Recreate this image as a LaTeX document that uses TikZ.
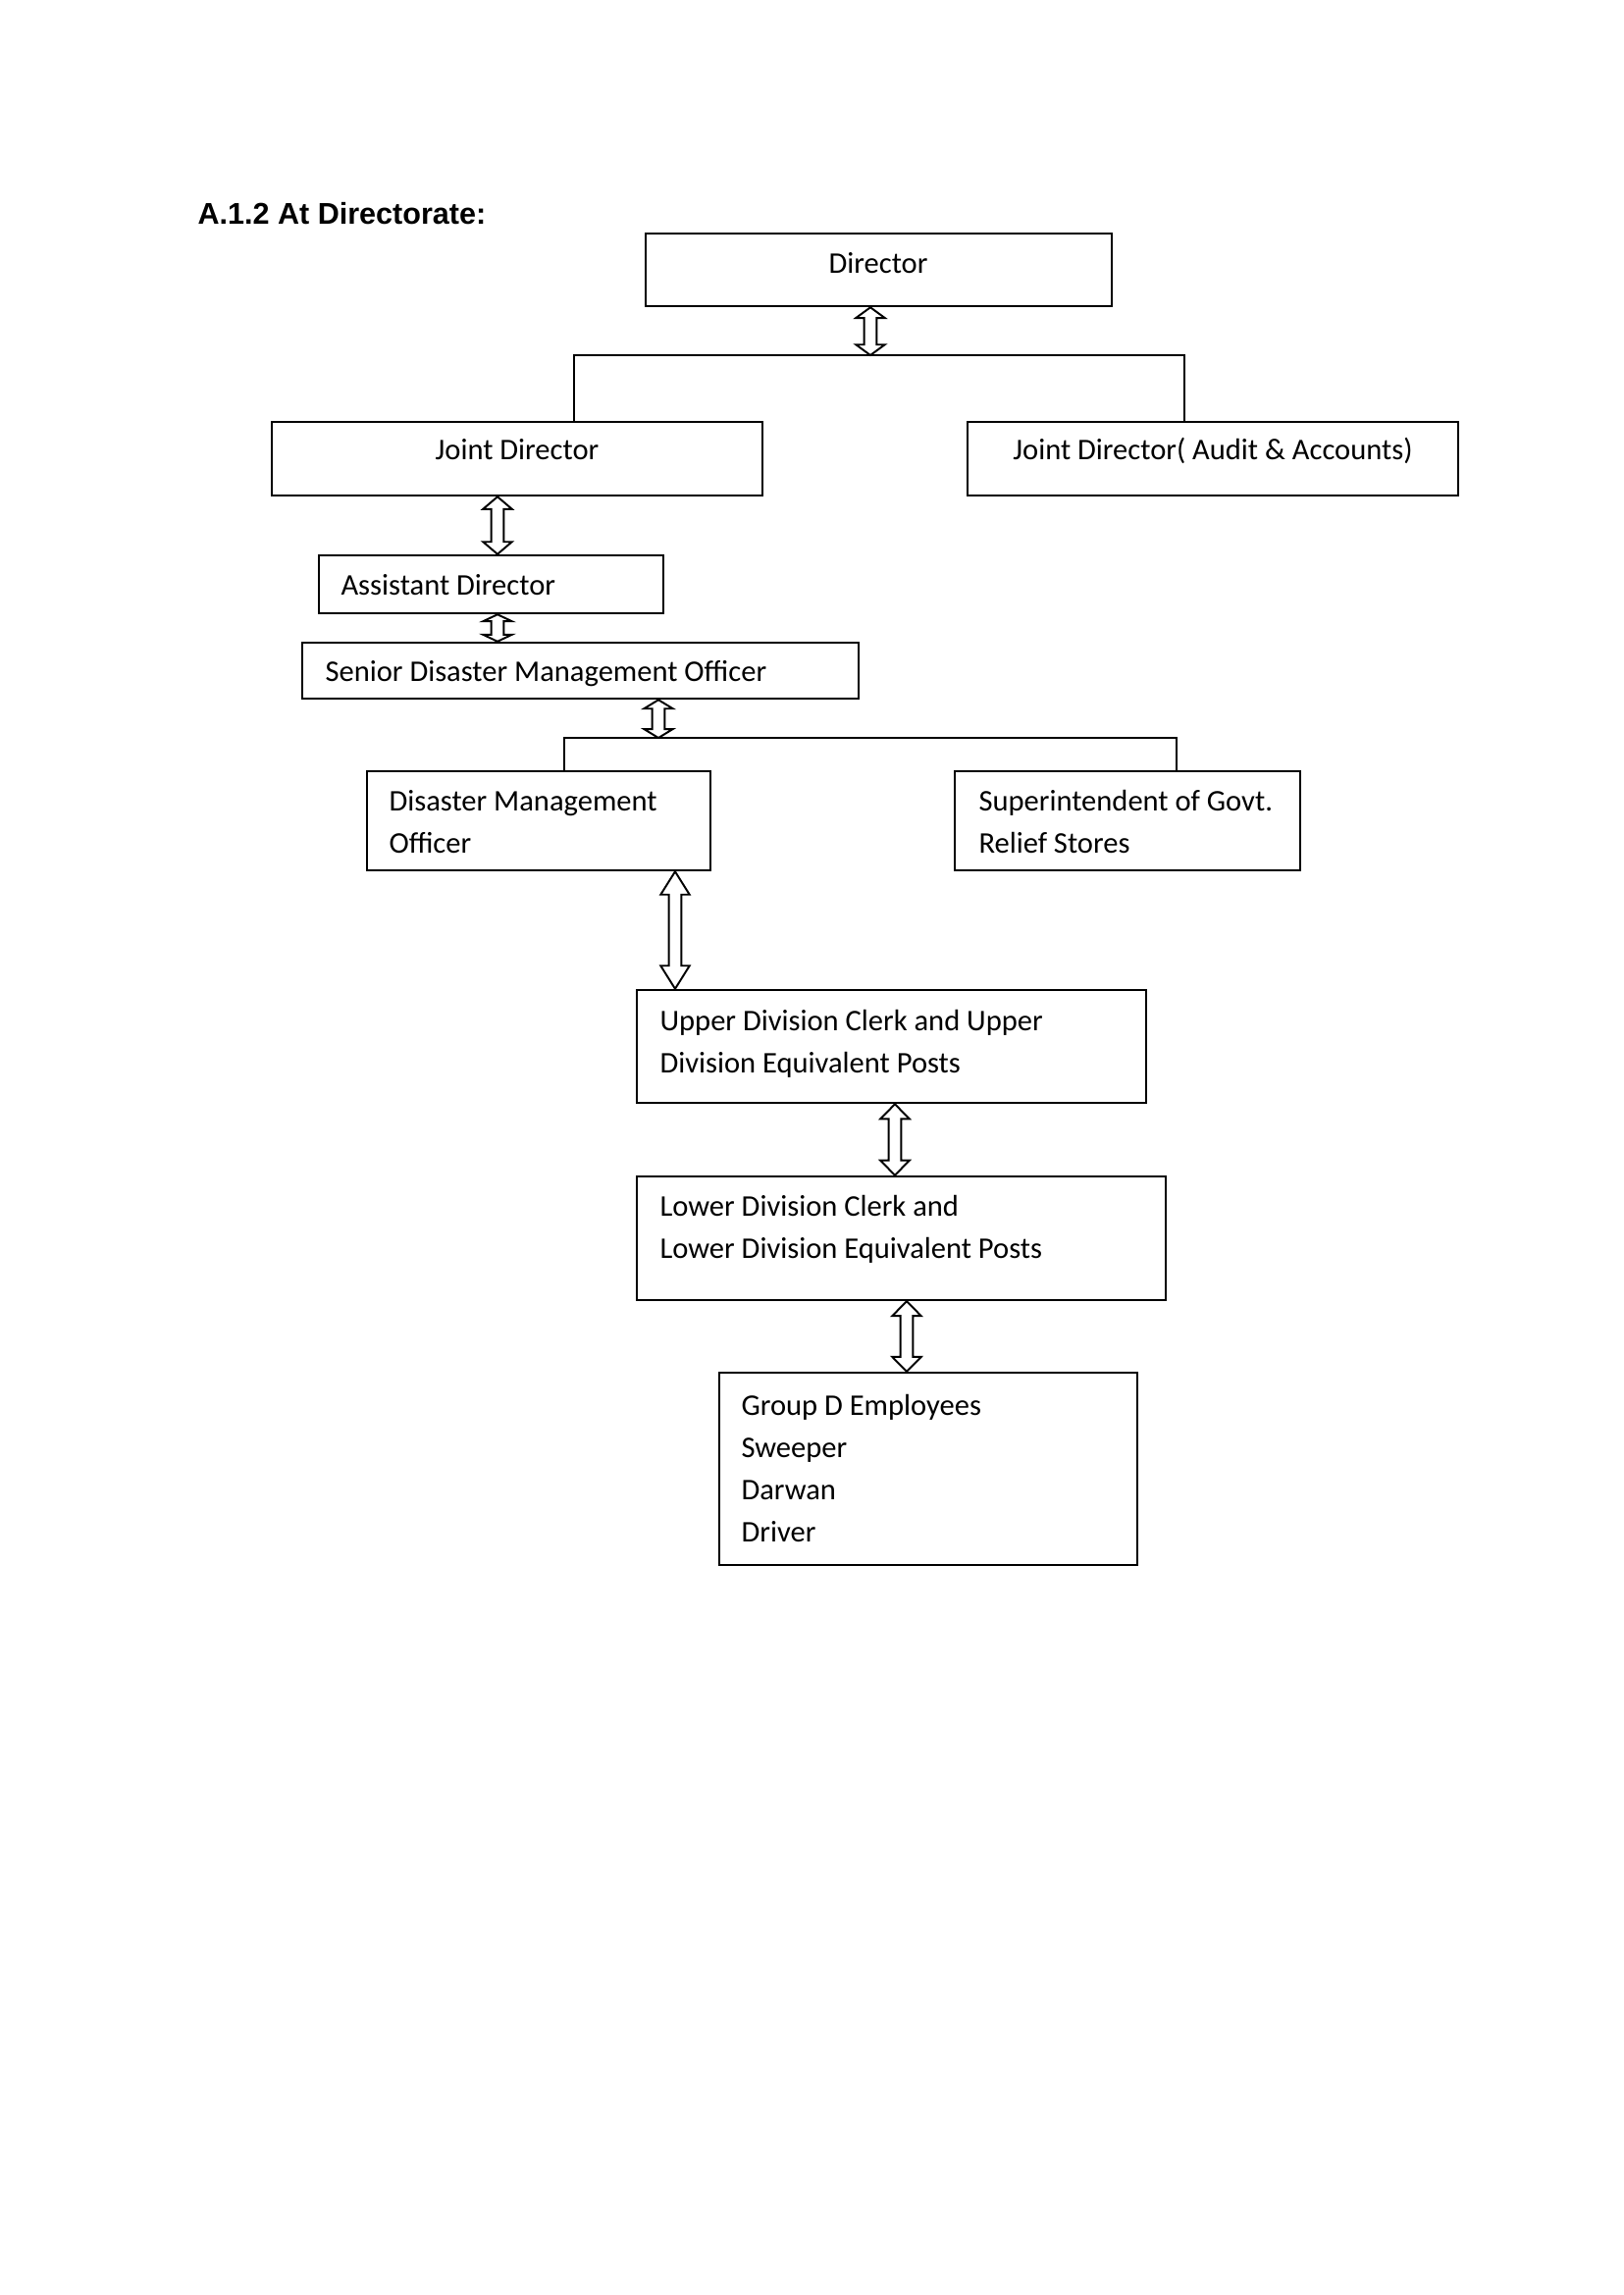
\documentclass[tikz,border=0pt]{standalone}
\usepackage{fontspec}
\setmainfont{Carlito}
\newfontfamily\headfont{Liberation Sans}
\usetikzlibrary{fit,calc}
\tikzset{
  box/.style={draw, line width=0.9pt, inner sep=0pt, rectangle},
  txt/.style={inner sep=0pt, font=\fontsize{11}{15.5}\selectfont, align=left},
  head/.style={inner sep=0pt, font=\headfont\bfseries\fontsize{11}{13}\selectfont},
  bus/.style={line width=1pt},
  arr/.style={draw, line width=0.7pt, fill=white, line join=miter},
}
\newcommand\dblarr[3]{%
  \draw[arr] let \p1=(#2), \p2=(#3), \p3=(#1,0), \n1={0.18*(\y1-\y2)+0.72pt} in
    (\x3,\y1) -- (\x3+5.3pt,\y1-\n1) -- (\x3+2.3pt,\y1-\n1) -- (\x3+2.3pt,\y2+\n1)
    -- (\x3+5.3pt,\y2+\n1) -- (\x3,\y2) -- (\x3-5.3pt,\y2+\n1) -- (\x3-2.3pt,\y2+\n1)
    -- (\x3-2.3pt,\y1-\n1) -- (\x3-5.3pt,\y1-\n1) -- cycle;}
\begin{document}
\begin{tikzpicture}[x=0.36pt,y=-0.36pt]
\useasboundingbox (0,0) rectangle (1654,2339);

\node[head, anchor=base west] (title) at (201,228) {A.1.2 At Directorate:};

% boxes
\node[box, fit={(658,238) (1133,312)}] (dir) {};
\node[box, fit={(277,430) (777,505)}] (jd) {};
\node[box, fit={(986,430) (1486,505)}] (jda) {};
\node[box, fit={(325,566) (676,625)}] (ad) {};
\node[box, fit={(308,655) (875,712)}] (sdmo) {};
\node[box, fit={(374,786) (724,887)}] (dmo) {};
\node[box, fit={(973,786) (1325,887)}] (sgrs) {};
\node[box, fit={(649,1009) (1168,1124)}] (udc) {};
\node[box, fit={(649,1199) (1188,1325)}] (ldc) {};
\node[box, fit={(733,1399) (1159,1595)}] (gd) {};

% texts
\node[txt, anchor=base] (tdir) at (895,278) {Director};
\node[txt, anchor=base] (tjd) at (527,468) {Joint Director};
\node[txt, anchor=base] (tjda) at (1236,468) {Joint Director( Audit \& Accounts)};
\node[txt, anchor=base west] (tad) at (347,606) {Assistant Director};
\node[txt, anchor=base west] (tsdmo) at (331,694) {Senior Disaster Management Officer};
\node[txt, anchor=base west] (tdmo1) at (396,826) {Disaster Management};
\node[txt, anchor=base west] (tdmo2) at (396,869) {Officer};
\node[txt, anchor=base west] (tsg1) at (997,826) {Superintendent of Govt.};
\node[txt, anchor=base west] (tsg2) at (997,869) {Relief Stores};
\node[txt, anchor=base west] (tudc1) at (672,1050) {Upper Division Clerk and Upper};
\node[txt, anchor=base west] (tudc2) at (672,1093) {Division Equivalent Posts};
\node[txt, anchor=base west] (tldc1) at (672,1239) {Lower Division Clerk and};
\node[txt, anchor=base west] (tldc2) at (672,1282) {Lower Division Equivalent Posts};
\node[txt, anchor=base west] (tgd1) at (755,1442) {Group D Employees};
\node[txt, anchor=base west] (tgd2) at (755,1485) {Sweeper};
\node[txt, anchor=base west] (tgd3) at (755,1528) {Darwan};
\node[txt, anchor=base west] (tgd4) at (755,1571) {Driver};

% buses
\coordinate (b1) at (887,362);
\coordinate (b1l) at (585,362);
\coordinate (b1r) at (1207,362);
\draw[bus] (jd.north -| b1l) -- (b1l) -- (b1r) -- (jda.north -| b1r);
\coordinate (b2) at (671,752);
\coordinate (b2l) at (575,752);
\coordinate (b2r) at (1199,752);
\draw[bus] (dmo.north -| b2l) -- (b2l) -- (b2r) -- (sgrs.north -| b2r);

% arrows
\dblarr{887}{dir.south}{b1}
\dblarr{507}{jd.south}{ad.north}
\dblarr{507}{ad.south}{sdmo.north}
\dblarr{671}{sdmo.south}{b2}
\dblarr{688}{dmo.south}{udc.north}
\dblarr{912}{udc.south}{ldc.north}
\dblarr{924}{ldc.south}{gd.north}
\end{tikzpicture}
\end{document}
